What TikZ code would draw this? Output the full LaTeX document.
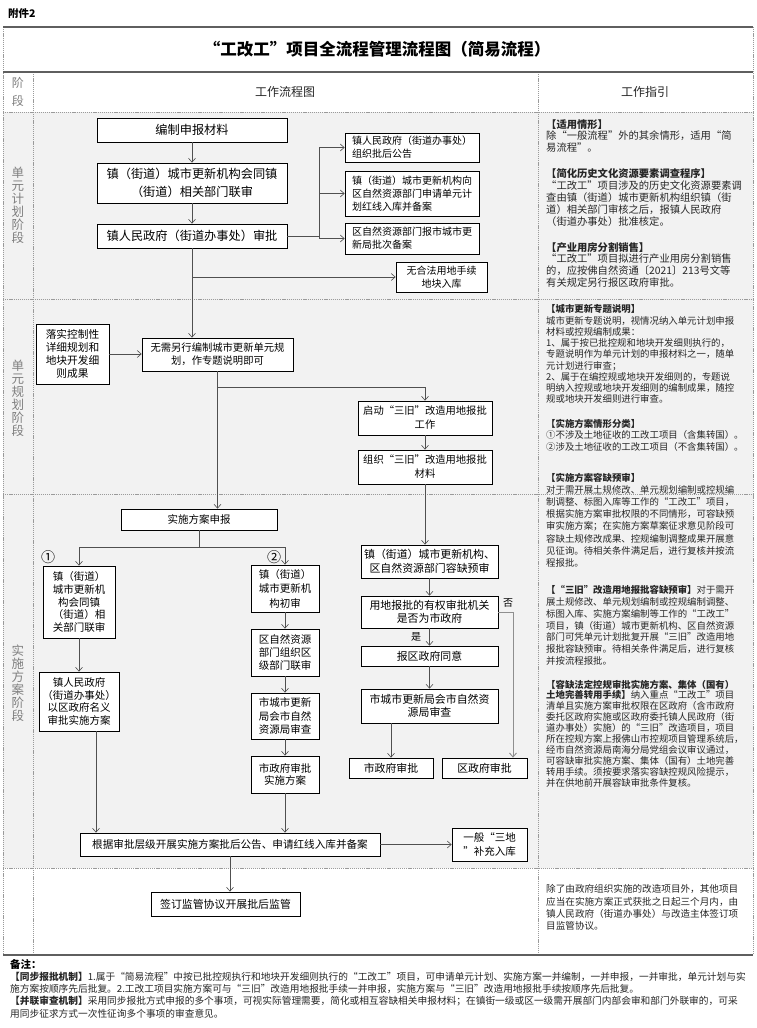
\documentclass[tikz,border=0pt]{standalone}
\usepackage{fontspec}
\setmainfont{Noto Sans CJK SC}
\usetikzlibrary{arrows.meta,calc}
\definecolor{rowgray}{HTML}{F2F2F2}
\definecolor{gridgray}{HTML}{9A9A9A}
\definecolor{rulegray}{HTML}{5F5F5F}
\definecolor{conncol}{HTML}{505050}
\definecolor{lightconn}{HTML}{8F8F8F}
\definecolor{labgray}{HTML}{7F7F7F}
\definecolor{guidetext}{HTML}{262626}
\newcommand{\fsz}[2]{\fontsize{#1}{#2}\selectfont}
\begin{document}
\begin{tikzpicture}[x=1pt,y=-1pt,
  gridline/.style={draw=gridgray,line width=0.6pt,dash pattern=on 1.2pt off 0.9pt},
  rulebar/.style={draw=rulegray,line width=2.8pt},
  box/.style={draw=black,line width=0.7pt,fill=white,inner sep=0pt,align=center,text=black},
  lbox/.style={box,align=left,inner xsep=7pt},
  conn/.style={draw=conncol,line width=0.6pt,-{Straight Barb[length=4pt,width=7pt]}},
  connlight/.style={draw=lightconn,line width=0.9pt,-{Straight Barb[length=4pt,width=7pt]}},
  plain/.style={draw=conncol,line width=0.6pt},
  guide/.style={anchor=north west,inner sep=0pt,align=left,text=guidetext},
  stagelab/.style={text=labgray,align=center,inner sep=0pt,font=\fsz{12.5}{13}},
]
\useasboundingbox (0,0) rectangle (756,1028);
\fill[white] (0,0) rectangle (756,1028);
\fill[rowgray] (3,112) rectangle (753,868);

% ---------- table frame ----------
\draw[gridline] (3,27) -- (3,955);
\draw[gridline] (753,27) -- (753,955);
\draw[gridline] (33,72) -- (33,955);
\draw[gridline] (538,72) -- (538,955);
\foreach \yy in {112,299,494,868} \draw[gridline] (3,\yy) -- (753,\yy);
\draw[rulebar] (3,27) -- (753,27);
\draw[rulebar] (3,72) -- (753,72);
\draw[rulebar] (3,955) -- (753,955);

% ---------- heading ----------
\node[anchor=west,inner sep=0pt,font=\fsz{10.5}{12}\bfseries] (att) at (8,14) {附件2};
\node[inner sep=0pt,font=\fsz{16.5}{18}\bfseries] (title) at (377,49) {“工改工”项目全流程管理流程图（简易流程）};
\node[inner sep=0pt,align=center,text=labgray,font=\fsz{12}{18}] (hstage) at (18,92) {阶\\段};
\node[inner sep=0pt,font=\fsz{12}{14},text=black!85] (hflow) at (285,92) {工作流程图};
\node[inner sep=0pt,font=\fsz{12}{14},text=black!85] (hguide) at (645,92) {工作指引};

% stage labels
\node[stagelab] (lab1) at (18,205) {单\\元\\计\\划\\阶\\段};
\node[stagelab] (lab2) at (18,398) {单\\元\\规\\划\\阶\\段};
\node[stagelab] (lab3) at (18,683) {实\\施\\方\\案\\阶\\段};

% ---------- stage 1 ----------
\node[box,minimum width=190pt,minimum height=24pt,font=\fsz{12.2}{18}] (n1) at (192,130) {编制申报材料};
\node[box,minimum width=190pt,minimum height=40pt,font=\fsz{12.2}{18}] (n2) at (192,183) {镇（街道）城市更新机构会同镇\\（街道）相关部门联审};
\node[box,minimum width=190pt,minimum height=24pt,font=\fsz{12.2}{18}] (n3) at (192,236) {镇人民政府（街道办事处）审批};
\node[lbox,text width=120pt,minimum height=29pt,font=\fsz{10}{13.3}] (r1) at (412,147.5) {镇人民政府（街道办事处）\\组织批后公告};
\node[lbox,text width=120pt,minimum height=45pt,font=\fsz{10}{13.3}] (r2) at (412,193.5) {镇（街道）城市更新机构向\\区自然资源部门申请单元计\\划红线入库并备案};
\node[lbox,text width=120pt,minimum height=31pt,font=\fsz{10}{13.3}] (r3) at (412,238.5) {区自然资源部门报市城市更\\新局批次备案};
\node[box,minimum width=91pt,minimum height=30pt,font=\fsz{10}{13.3}] (r4) at (441.5,277) {无合法用地手续\\地块入库};

% ---------- stage 2 ----------
\node[box,minimum width=73pt,minimum height=60pt,font=\fsz{10.7}{13}] (n4) at (72.5,354) {落实控制性\\详细规划和\\地块开发细\\则成果};
\node[box,minimum width=151pt,minimum height=33pt,font=\fsz{10.3}{13}] (n5) at (217.5,354.5) {无需另行编制城市更新单元规\\划，作专题说明即可};
\node[box,minimum width=134pt,minimum height=34pt,font=\fsz{10.3}{14}] (n6) at (425,418) {启动“三旧”改造用地报批\\工作};
\node[box,minimum width=134pt,minimum height=34pt,font=\fsz{10.3}{14}] (n7) at (425,467) {组织“三旧”改造用地报批\\材料};

% ---------- stage 3 ----------
\node[box,minimum width=156pt,minimum height=21pt,font=\fsz{10.5}{12}] (n8) at (199,519.5) {实施方案申报};
\node[inner sep=0pt,font=\fsz{14}{14}] (c1) at (48,557) {①};
\node[inner sep=0pt,font=\fsz{14}{14}] (c2) at (274,557) {②};
\node[box,minimum width=72pt,minimum height=72pt,font=\fsz{10.5}{12.6}] (a1) at (79,602) {镇（街道）\\城市更新机\\构会同镇\\（街道）相\\关部门联审};
\node[box,minimum width=80pt,minimum height=59pt,font=\fsz{10.5}{12.4}] (a2) at (79,701.5) {镇人民政府\\（街道办事处）\\以区政府名义\\审批实施方案};
\node[box,minimum width=68pt,minimum height=47pt,font=\fsz{10.5}{14.5}] (b1) at (285,588.5) {镇（街道）\\城市更新机\\构初审};
\node[box,minimum width=68pt,minimum height=47pt,font=\fsz{10.5}{13.4}] (b2) at (285,652.5) {区自然资源\\部门组织区\\级部门联审};
\node[box,minimum width=68pt,minimum height=46pt,font=\fsz{10.5}{13.2}] (b3) at (285,716) {市城市更新\\局会市自然\\资源局审查};
\node[box,minimum width=68pt,minimum height=37pt,font=\fsz{10.5}{12.6}] (b4) at (285,774.5) {市政府审批\\实施方案};
\node[box,minimum width=137pt,minimum height=33pt,font=\fsz{10.9}{13.5}] (n9) at (429.5,561.5) {镇（街道）城市更新机构、\\区自然资源部门容缺预审};
\node[box,minimum width=137pt,minimum height=32pt,font=\fsz{10.9}{13.5}] (n11) at (429.5,612) {用地报批的有权审批机关\\是否为市政府};
\node[box,minimum width=137pt,minimum height=20pt,font=\fsz{10.9}{13}] (n12) at (429.5,656) {报区政府同意};
\node[box,minimum width=137pt,minimum height=34pt,font=\fsz{10.9}{13.5}] (n13) at (429.5,706) {市城市更新局会市自然资\\源局审查};
\node[box,minimum width=84pt,minimum height=20pt,font=\fsz{10.9}{13}] (n14) at (391,768) {市政府审批};
\node[box,minimum width=85pt,minimum height=20pt,font=\fsz{10.9}{13}] (n15) at (484.5,768) {区政府审批};
\node[inner sep=0pt,font=\fsz{10}{10}] (yes) at (416,637) {是};
\node[inner sep=0pt,font=\fsz{10}{10}] (no) at (508,603) {否};
\node[box,minimum width=300pt,minimum height=23pt,font=\fsz{10.6}{12}] (n10) at (230,844.5) {根据审批层级开展实施方案批后公告、申请红线入库并备案};
\node[box,minimum width=75pt,minimum height=33pt,font=\fsz{10.5}{13.5}] (n16) at (489.5,844.5) {一般“三地\\”补充入库};

% ---------- stage 4 ----------
\node[box,minimum width=149pt,minimum height=24pt,font=\fsz{10.9}{12}] (n17) at (225.5,904) {签订监管协议开展批后监管};

% ---------- connectors ----------
\coordinate (br) at (319,236);
\coordinate (b5) at ($(n5.south)+(0,16)$);
\coordinate (j8) at (199,547);
\coordinate (a2out) at (96,731);
\coordinate (c11) at (513,612);

\draw[conn] (n1.south) -- (n2.north);
\draw[conn] (n2.south) -- (n3.north);
\draw[plain] (n3.east) -- (br);
\draw[conn] (br) |- (r1.west);
\draw[conn] (br) |- (r2.west);
\draw[conn] (br) |- (r3.west);
\draw[conn] (n3.south) -- (n3.south |- n5.north);
\draw[conn] (n3.south |- r4.west) -- (r4.west);

\draw[conn] (n4.east) -- (n4.east -| n5.west);
\draw[conn] (n5.south) -- (n5.south |- n8.north);
\draw[conn] (b5) -| (n6.north);
\draw[conn] (n6.south) -- (n7.north);
\draw[conn] (n7.south) -- (n7.south |- n9.north);

\draw[plain] (n8.south) -- (j8);
\draw[conn] (j8) -| (a1.north);
\draw[conn] (j8) -| (b1.north);
\draw[conn] (a1.south) -- (a2.north);
\draw[conn] (a2out) -- (a2out |- n10.north);
\draw[conn] (b1.south) -- (b2.north);
\draw[conn] (b2.south) -- (b3.north);
\draw[conn] (b3.south) -- (b4.north);
\draw[conn] (b4.south) -- (b4.south |- n10.north);

\draw[conn] (n9.south) -- (n11.north);
\draw[conn] (n11.south) -- (n12.north);
\draw[conn] (n12.south) -- (n13.north);
\draw[conn] (n13.south -| n14.north) -- (n14.north);
\draw[connlight] (n11.east) -- (c11) -- (c11 |- n15.north);

\draw[conn] (n10.east) -- (n16.west);
\draw[conn] (n10.south) -- (n10.south |- n17.north);

% ---------- guide column ----------
\node[guide,font=\fsz{10.3}{11.7}] (g1) at (546,119.2) {{\bfseries 【适用情形】}\\除“一般流程”外的其余情形，适用“简\\易流程”。};
\node[guide,font=\fsz{10.3}{12}] (g2) at (546,168.2) {{\bfseries 【简化历史文化资源要素调查程序】}\\“工改工”项目涉及的历史文化资源要素调\\查由镇（街道）城市更新机构组织镇（街\\道）相关部门审核之后，报镇人民政府\\（街道办事处）批准核定。};
\node[guide,font=\fsz{10.3}{11.7}] (g3) at (546,242.2) {{\bfseries 【产业用房分割销售】}\\“工改工”项目拟进行产业用房分割销售\\的，应按佛自然资通〔2021〕213号文等\\有关规定另行报区政府审批。};
\node[guide,font=\fsz{9.4}{11.25}] (g4) at (546,304.6) {{\bfseries 【城市更新专题说明】}\\城市更新专题说明，视情况纳入单元计划申报\\材料或控规编制成果：\\1、属于按已批控规和地块开发细则执行的，\\专题说明作为单元计划的申报材料之一，随单\\元计划进行审查；\\2、属于在编控规或地块开发细则的，专题说\\明纳入控规或地块开发细则的编制成果，随控\\规或地块开发细则进行审查。};
\node[guide,font=\fsz{9.4}{11.5}] (g5) at (546,418.6) {{\bfseries 【实施方案情形分类】}\\①不涉及土地征收的工改工项目（含集转国）。\\②涉及土地征收的工改工项目（不含集转国）。};
\node[guide,font=\fsz{9.4}{12.2}] (g6) at (546,472.6) {{\bfseries 【实施方案容缺预审】}\\对于需开展土规修改、单元规划编制或控规编\\制调整、标图入库等工作的“工改工”项目，\\根据实施方案审批权限的不同情形，可容缺预\\审实施方案；在实施方案草案征求意见阶段可\\容缺土规修改成果、控规编制调整成果开展意\\见征询。待相关条件满足后，进行复核并按流\\程报批。};
\node[guide,font=\fsz{9.4}{11.7}] (g7) at (546,585.6) {{\bfseries 【“三旧”改造用地报批容缺预审】}对于需开\\展土规修改、单元规划编制或控规编制调整、\\标图入库、实施方案编制等工作的“工改工”\\项目，镇（街道）城市更新机构、区自然资源\\部门可凭单元计划批复开展“三旧”改造用地\\报批容缺预审。待相关条件满足后，进行复核\\并按流程报批。};
\node[guide,font=\fsz{9.4}{10.9}] (g8) at (546,679.6) {{\bfseries 【容缺法定控规审批实施方案、集体（国有）}\\{\bfseries 土地完善转用手续】}纳入重点“工改工”项目\\清单且实施方案审批权限在区政府（含市政府\\委托区政府实施或区政府委托镇人民政府（街\\道办事处）实施）的“三旧”改造项目，项目\\所在控规方案上报佛山市控规项目管理系统后，\\经市自然资源局南海分局党组会议审议通过，\\可容缺审批实施方案、集体（国有）土地完善\\转用手续。须按要求落实容缺控规风险提示，\\并在供地前开展容缺审批条件复核。};
\node[guide,font=\fsz{9.6}{12.2}] (g9) at (546,884.5) {除了由政府组织实施的改造项目外，其他项目\\应当在实施方案正式获批之日起三个月内，由\\镇人民政府（街道办事处）与改造主体签订项\\目监管协议。};

% ---------- notes ----------
\node[anchor=west,inner sep=0pt,font=\fsz{10.5}{12}\bfseries] (note0) at (10,964) {备注：};
\node[anchor=west,inner sep=0pt,font=\fsz{9.7}{12},text=guidetext] (note1) at (10,976.5) {{\bfseries 【同步报批机制】}1.属于“简易流程”中按已批控规执行和地块开发细则执行的“工改工”项目，可申请单元计划、实施方案一并编制，一并申报，一并审批，单元计划与实};
\node[anchor=west,inner sep=0pt,font=\fsz{9.7}{12},text=guidetext] (note2) at (10,989) {施方案按顺序先后批复。2.工改工项目实施方案可与“三旧”改造用地报批手续一并申报，实施方案与“三旧”改造用地报批手续按顺序先后批复。};
\node[anchor=west,inner sep=0pt,font=\fsz{9.7}{12},text=guidetext] (note3) at (10,1001) {{\bfseries 【并联审查机制】}采用同步报批方式申报的多个事项，可视实际管理需要，简化或相互容缺相关申报材料；在镇街一级或区一级需开展部门内部会审和部门外联审的，可采};
\node[anchor=west,inner sep=0pt,font=\fsz{9.7}{12},text=guidetext] (note4) at (10,1013.5) {用同步征求方式一次性征询多个事项的审查意见。};
\end{tikzpicture}
\end{document}
